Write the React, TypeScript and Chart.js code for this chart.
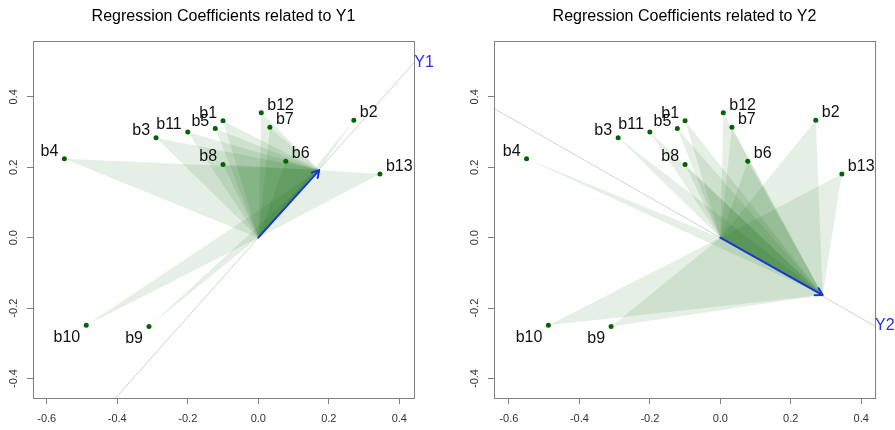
import React, { useEffect, useRef } from "react";
import { Chart, registerables } from "chart.js";

Chart.register(...registerables);

// ---- data ----
const coefLabels = ["b1", "b2", "b3", "b4", "b5", "b6", "b7", "b8", "b9", "b10", "b11", "b12", "b13"];
const coefX = [-0.1, 0.271, -0.29, -0.55, -0.122, 0.078, 0.033, -0.1, -0.31, -0.488, -0.2, 0.0085, 0.345];
const coefY = [0.332, 0.334, 0.284, 0.224, 0.31, 0.217, 0.314, 0.208, -0.252, -0.249, 0.3, 0.355, 0.181];
// label placement: L = upper-left, R = upper-right, LB = lower-left
const labelSide = ["L", "R", "L", "L", "L", "R", "R", "L", "LB", "LB", "L", "R", "R"];

const responses = ["Y1", "Y2"];
const responseX = [0.4426, 0.439];
const responseY = [0.498, -0.251];
const projX = [0.173, 0.2906];
const projY = [0.192, -0.163];

const xTicks = [-0.6, -0.4, -0.2, 0.0, 0.2, 0.4];
const yTicks = [-0.4, -0.2, 0.0, 0.2, 0.4];
const xMin = [-0.639, -0.6424];
const xMax = [0.4417, 0.4391];
const yMin = -0.4554;
const yMax = 0.5588;

const FONT = '"Liberation Sans", Arial, sans-serif';

function makePlugin(k: number) {
  return {
    id: "regviz" + k,
    beforeDatasetsDraw(chart: any) {
      const { ctx, chartArea: a } = chart;
      const x = chart.scales.x;
      const y = chart.scales.y;
      const ox = x.getPixelForValue(0);
      const oy = y.getPixelForValue(0);
      const tx = x.getPixelForValue(projX[k]);
      const ty = y.getPixelForValue(projY[k]);
      ctx.save();
      ctx.beginPath();
      ctx.rect(a.left, a.top, a.right - a.left, a.bottom - a.top);
      ctx.clip();
      ctx.fillStyle = "rgba(0,100,0,0.1)";
      for (let i = 0; i < coefX.length; i++) {
        ctx.beginPath();
        ctx.moveTo(ox, oy);
        ctx.lineTo(x.getPixelForValue(coefX[i]), y.getPixelForValue(coefY[i]));
        ctx.lineTo(tx, ty);
        ctx.closePath();
        ctx.fill();
      }
      // response direction line
      ctx.strokeStyle = "#d3d3d3";
      ctx.lineWidth = 1;
      ctx.beginPath();
      ctx.moveTo(x.getPixelForValue(responseX[k]), y.getPixelForValue(responseY[k]));
      ctx.lineTo(x.getPixelForValue(-responseX[k] * 4), y.getPixelForValue(-responseY[k] * 4));
      ctx.stroke();
      ctx.restore();

      // arrow
      ctx.save();
      ctx.strokeStyle = "#1836d0";
      ctx.lineWidth = 2;
      ctx.lineCap = "round";
      ctx.beginPath();
      ctx.moveTo(ox, oy);
      ctx.lineTo(tx, ty);
      const ang = Math.atan2(ty - oy, tx - ox);
      const hl = 8;
      ctx.moveTo(tx, ty);
      ctx.lineTo(tx - hl * Math.cos(ang - Math.PI / 6), ty - hl * Math.sin(ang - Math.PI / 6));
      ctx.moveTo(tx, ty);
      ctx.lineTo(tx - hl * Math.cos(ang + Math.PI / 6), ty - hl * Math.sin(ang + Math.PI / 6));
      ctx.stroke();
      ctx.restore();
    },
    afterDraw(chart: any) {
      const { ctx, chartArea: a } = chart;
      const x = chart.scales.x;
      const y = chart.scales.y;
      ctx.save();
      // box
      ctx.strokeStyle = "#808080";
      ctx.lineWidth = 1;
      ctx.strokeRect(a.left + 0.5, a.top + 0.5, a.right - a.left, a.bottom - a.top);
      // tick labels
      ctx.fillStyle = "#333";
      ctx.font = `11px ${FONT}`;
      ctx.textAlign = "center";
      ctx.textBaseline = "middle";
      xTicks.forEach((v) => {
        ctx.fillText(v.toFixed(1), x.getPixelForValue(v), a.bottom + 21);
      });
      yTicks.forEach((v) => {
        ctx.save();
        ctx.translate(a.left - 19, y.getPixelForValue(v));
        ctx.rotate(-Math.PI / 2);
        ctx.fillText(v.toFixed(1), 0, 0);
        ctx.restore();
      });
      // title
      ctx.fillStyle = "#000";
      ctx.font = `16px ${FONT}`;
      ctx.textBaseline = "alphabetic";
      ctx.fillText(`Regression Coefficients related to ${responses[k]}`, (a.left + a.right) / 2, 21);
      // point labels
      ctx.fillStyle = "#111";
      for (let i = 0; i < coefX.length; i++) {
        const px = x.getPixelForValue(coefX[i]);
        const py = y.getPixelForValue(coefY[i]);
        const side = labelSide[i];
        if (side === "R") {
          ctx.textAlign = "left";
          ctx.fillText(coefLabels[i], px + 6, py - 3);
        } else if (side === "L") {
          ctx.textAlign = "right";
          ctx.fillText(coefLabels[i], px - 6, py - 3);
        } else {
          ctx.textAlign = "right";
          ctx.fillText(coefLabels[i], px - 6, py + 17);
        }
      }
      // response label
      ctx.fillStyle = "#2a2aff";
      ctx.textAlign = "left";
      ctx.textBaseline = "middle";
      ctx.fillText(responses[k], x.getPixelForValue(responseX[k]), y.getPixelForValue(responseY[k]));
      ctx.restore();
    },
  };
}

function Panel({ k, left, width, yAxisWidth, rightPad }: any) {
  const ref = useRef<HTMLCanvasElement | null>(null);
  useEffect(() => {
    if (!ref.current) return;
    const chart = new Chart(ref.current, {
      type: "scatter",
      data: {
        datasets: [
          {
            data: coefX.map((v, i) => ({ x: v, y: coefY[i] })),
            backgroundColor: "#006400",
            borderColor: "#006400",
            borderWidth: 0,
            pointRadius: 2.5,
            pointHoverRadius: 2.5,
          },
        ],
      },
      options: {
        animation: false,
        responsive: false,
        devicePixelRatio: 1,
        layout: { padding: { top: 41, right: rightPad, left: 0, bottom: 0 } },
        plugins: { legend: { display: false }, title: { display: false }, tooltip: { enabled: false } },
        events: [],
        scales: {
          x: {
            type: "linear",
            min: xMin[k],
            max: xMax[k],
            afterBuildTicks: (s: any) => {
              s.ticks = xTicks.map((value) => ({ value }));
            },
            afterFit: (s: any) => {
              s.height = 32;
            },
            ticks: { display: false },
            grid: { display: true, drawOnChartArea: false, drawTicks: true, tickLength: 6, color: "#808080" },
            border: { display: false },
          },
          y: {
            type: "linear",
            min: yMin,
            max: yMax,
            afterBuildTicks: (s: any) => {
              s.ticks = yTicks.map((value) => ({ value }));
            },
            afterFit: (s: any) => {
              s.width = yAxisWidth;
            },
            ticks: { display: false },
            grid: { display: true, drawOnChartArea: false, drawTicks: true, tickLength: 6, color: "#808080" },
            border: { display: false },
          },
        },
      } as any,
      plugins: [makePlugin(k)],
    });
    return () => chart.destroy();
  }, []);
  return (
    <canvas
      ref={ref}
      width={width}
      height={430}
      style={{ position: "absolute", left, top: 0, width, height: 430 }}
    />
  );
}

export default function App() {
  return (
    <div style={{ position: "fixed", left: 0, top: 0, width: 895, height: 430, background: "#fff", overflow: "hidden" }}>
      <Panel k={0} left={0} width={447} yAxisWidth={33} rightPad={33} />
      <Panel k={1} left={447} width={448} yAxisWidth={47} rightPad={20} />
    </div>
  );
}
